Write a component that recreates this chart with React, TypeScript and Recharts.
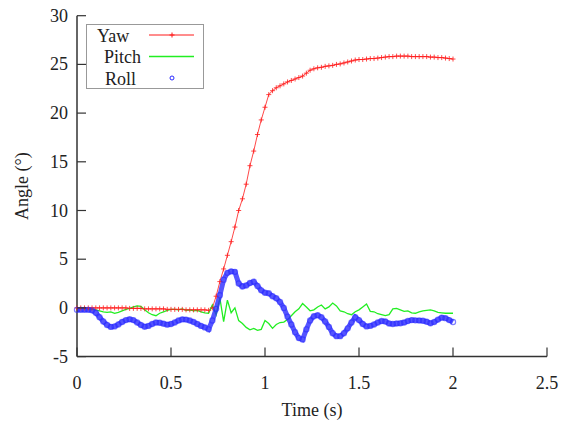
import React from "react"
import { Legend, Line, LineChart, XAxis, YAxis } from "recharts"

// sample times (s)
const time = [
  0, 0.02, 0.04, 0.06, 0.08, 0.1, 0.12, 0.14, 0.16, 0.18,
  0.2, 0.22, 0.24, 0.26, 0.28, 0.3, 0.32, 0.34, 0.36, 0.38,
  0.4, 0.42, 0.44, 0.46, 0.48, 0.5, 0.52, 0.54, 0.56, 0.58,
  0.6, 0.62, 0.64, 0.66, 0.68, 0.7, 0.72, 0.74, 0.76, 0.78,
  0.8, 0.82, 0.84, 0.86, 0.88, 0.9, 0.92, 0.94, 0.96, 0.98,
  1.0, 1.02, 1.04, 1.06, 1.08, 1.1, 1.12, 1.14, 1.16, 1.18,
  1.2, 1.22, 1.24, 1.26, 1.28, 1.3, 1.32, 1.34, 1.36, 1.38,
  1.4, 1.42, 1.44, 1.46, 1.48, 1.5, 1.52, 1.54, 1.56, 1.58,
  1.6, 1.62, 1.64, 1.66, 1.68, 1.7, 1.72, 1.74, 1.76, 1.78,
  1.8, 1.82, 1.84, 1.86, 1.88, 1.9, 1.92, 1.94, 1.96, 1.98,
  2.0,
]

const yaw = [
  0, 0, 0, 0, 0, 0, 0, 0, 0, 0,
  0, 0, 0, 0, -0.05, -0.05, -0.05, -0.05, -0.1, -0.1,
  -0.1, -0.1, -0.1, -0.1, -0.15, -0.15, -0.15, -0.15, -0.15, -0.2,
  -0.2, -0.2, -0.2, -0.2, -0.2, -0.25, 0.0, 1.2, 2.7, 4.0,
  5.4, 6.8, 8.3, 10.0, 11.2, 12.7, 14.6, 16.1, 17.8, 19.3,
  20.6, 21.9, 22.3, 22.6, 22.8, 23.0, 23.2, 23.35, 23.5, 23.65,
  23.8, 24.1, 24.4, 24.55, 24.65, 24.7, 24.8, 24.85, 24.9, 25.0,
  25.05, 25.15, 25.25, 25.35, 25.45, 25.5, 25.5, 25.55, 25.6, 25.6,
  25.65, 25.7, 25.75, 25.8, 25.8, 25.85, 25.85, 25.85, 25.85, 25.8,
  25.8, 25.8, 25.8, 25.8, 25.75, 25.75, 25.7, 25.7, 25.65, 25.6,
  25.55,
]

const pitch = [
  0.0, 0.0, -0.05, -0.1, -0.15, -0.2, -0.3, -0.4, -0.45, -0.4,
  -0.55, -0.45, -0.3, -0.15, -0.05, 0.1, 0.2, 0.15, -0.2, -0.5,
  -0.7, -0.8, -0.55, -0.4, -0.25, -0.15, -0.15, -0.2, -0.1, -0.25,
  -0.2, -0.3, -0.25, -0.4, -0.5, -0.55, 0.3, -0.7, 1.0, -1.4,
  0.8, -0.5, 0.0, -1.3, -1.6, -2.0, -2.25, -2.1, -2.3, -2.2,
  -1.3, -1.6, -2.1, -1.7, -1.5, -1.45, -1.2, -0.8, -0.4, -0.1,
  0.45, 0.1, -0.3, -0.2, 0.1, 0.3, -0.1, 0.1, 0.5, 0.2,
  -0.3, -0.4, -0.6, -0.7, -0.4, -0.2, 0.1, 0.4, -0.35, -0.4,
  -0.6, -0.7, -0.8, -0.7, -0.1, -0.05, -0.2, -0.35, -0.3, -0.5,
  -0.55, -0.4, -0.3, -0.25, -0.2, -0.3, -0.45, -0.5, -0.55, -0.55,
  -0.55,
]

const roll = [
  -0.2, -0.2, -0.2, -0.2, -0.25, -0.5, -0.95, -1.4, -1.75, -1.95,
  -1.9, -1.7, -1.45, -1.25, -1.17, -1.25, -1.5, -1.75, -1.93, -1.85,
  -1.65, -1.5, -1.52, -1.62, -1.72, -1.65, -1.5, -1.3, -1.18, -1.2,
  -1.3, -1.45, -1.65, -1.85, -2.0, -2.2, -1.3, -0.1, 1.3, 2.9,
  3.6, 3.75, 3.7, 2.5, 2.2, 2.3, 2.55, 2.7, 2.25, 1.8,
  1.55, 1.5, 1.2, 1.0, 0.6, 0.0, -0.9, -1.7, -2.5, -3.1,
  -3.25, -2.2, -1.3, -0.85, -0.75, -0.95, -1.4, -1.95, -2.6, -2.9,
  -2.9, -2.6, -2.1, -1.5, -0.95, -1.25, -1.65, -1.9, -1.85, -1.7,
  -1.5, -1.35, -1.4, -1.6, -1.65, -1.6, -1.58, -1.5, -1.35, -1.25,
  -1.28, -1.3, -1.32, -1.42, -1.58, -1.45, -1.2, -1.0, -1.05, -1.25,
  -1.45,
]

const seriesOrder = ["Yaw", "Pitch", "Roll"]
const xTicks = [0, 0.5, 1, 1.5, 2, 2.5]
const yTicks = [-5, 0, 5, 10, 15, 20, 25, 30]

const data = time.map((t, i) => ({
  t,
  yaw: yaw[i],
  pitch: pitch[i],
  roll: roll[i],
}))

const FONT = "Liberation Serif, DejaVu Serif, serif"
const RED = "#ff1a1a"
const GREEN = "#22ee22"
const BLUE = "#2a2aff"
const AXIS = "#333"
const txt = { fontFamily: FONT, fontSize: 18 }

const XTick = (props: any) => {
  const { x, y, payload } = props
  return (
    <g>
      <line x1={x} y1={y} x2={x} y2={y - 9} stroke={AXIS} strokeWidth={1.2} />
      <text x={x} y={y + 32} textAnchor="middle" style={txt} fill="#222">
        {payload.value}
      </text>
    </g>
  )
}

const YTick = (props: any) => {
  const { x, y, payload } = props
  return (
    <g>
      <line x1={x} y1={y} x2={x + 9} y2={y} stroke={AXIS} strokeWidth={1.2} />
      <text x={x - 9} y={y + 6} textAnchor="end" style={txt} fill="#222">
        {payload.value}
      </text>
    </g>
  )
}

const YawDot = (props: any) => {
  const { cx, cy, index } = props
  if (cx == null || cy == null) return <g key={index} />
  return (
    <path
      key={index}
      d={`M${cx - 2.5},${cy}h5M${cx},${cy - 2.5}v5`}
      stroke={RED}
      strokeWidth={1}
      strokeOpacity={0.8}
    />
  )
}

const RollDot = (props: any) => {
  const { cx, cy, index } = props
  if (cx == null || cy == null) return <g key={index} />
  return (
    <circle
      key={index}
      cx={cx}
      cy={cy}
      r={2.6}
      fill="none"
      stroke={BLUE}
      strokeWidth={1.2}
      strokeOpacity={0.6}
    />
  )
}

const legendTextX = [11, 18, 19]

const LegendBox = (props: any) => {
  const items = [...(props.payload || [])].sort(
    (a: any, b: any) => seriesOrder.indexOf(a.value) - seriesOrder.indexOf(b.value)
  )
  return (
    <svg width={118} height={65} style={{ display: "block" }}>
      <rect x={0.5} y={0.5} width={117} height={64} fill="#fff" stroke="#999" />
      {items.map((it: any, i: number) => {
        const cy = 11 + i * 21.5
        return (
          <g key={it.value}>
            <text x={legendTextX[i]} y={cy + 6.5} style={txt} fill="#222">
              {it.value}
            </text>
            {it.dataKey === "yaw" && (
              <g stroke={RED} strokeWidth={1}>
                <line x1={63} y1={cy} x2={108} y2={cy} />
                <path d={`M${83.5},${cy}h5M${86},${cy - 2.5}v5`} />
              </g>
            )}
            {it.dataKey === "pitch" && (
              <line x1={63} y1={cy} x2={108} y2={cy} stroke={GREEN} strokeWidth={1.5} />
            )}
            {it.dataKey === "roll" && (
              <circle cx={86} cy={cy} r={2} fill="none" stroke={BLUE} strokeWidth={1} />
            )}
          </g>
        )
      })}
    </svg>
  )
}

const YLabel = (props: any) => {
  const vb = props.viewBox
  const cx = vb.x + 22
  const cy = vb.y + vb.height / 2
  return (
    <text
      x={cx}
      y={cy}
      transform={`rotate(-90 ${cx} ${cy})`}
      textAnchor="middle"
      dominantBaseline="central"
      style={txt}
      fill="#222"
    >
      Angle (°)
    </text>
  )
}

const XLabel = (props: any) => {
  const vb = props.viewBox
  return (
    <text x={vb.x + vb.width / 2} y={vb.y + 59} textAnchor="middle" style={txt} fill="#222">
      Time (s)
    </text>
  )
}

export default function App() {
  return (
    <div style={{ position: "absolute", left: 0, top: 0, width: 567, height: 422, background: "#fff" }}>
      <LineChart
        width={567}
        height={422}
        data={data}
        margin={{ top: 15.7, right: 20, bottom: 0, left: 0 }}
      >
        <XAxis
          dataKey="t"
          type="number"
          domain={[0, 2.5]}
          ticks={xTicks}
          height={65.4}
          tickSize={0}
          tickMargin={0}
          tickLine={false}
          axisLine={{ stroke: AXIS, strokeWidth: 1.5 }}
          tick={<XTick />}
          label={<XLabel />}
        />
        <YAxis
          type="number"
          domain={[-5, 30]}
          ticks={yTicks}
          width={77}
          tickSize={0}
          tickMargin={0}
          tickLine={false}
          axisLine={{ stroke: AXIS, strokeWidth: 1.5 }}
          tick={<YTick />}
          label={<YLabel />}
        />
        <Legend
          layout="horizontal"
          verticalAlign="middle"
          align="center"
          content={<LegendBox />}
          wrapperStyle={{ position: "absolute", left: 86, top: 24, width: 118, height: 65 }}
        />
        <Line
          name="Yaw"
          dataKey="yaw"
          type="linear"
          stroke={RED}
          strokeWidth={1}
          strokeOpacity={0.8}
          dot={YawDot}
          activeDot={false}
          isAnimationActive={false}
        />
        <Line
          name="Pitch"
          dataKey="pitch"
          type="linear"
          stroke={GREEN}
          strokeWidth={1.3}
          dot={false}
          activeDot={false}
          isAnimationActive={false}
        />
        <Line
          name="Roll"
          dataKey="roll"
          type="linear"
          stroke={BLUE}
          strokeWidth={5}
          strokeOpacity={0.8}
          dot={RollDot}
          activeDot={false}
          isAnimationActive={false}
        />
      </LineChart>
    </div>
  )
}
